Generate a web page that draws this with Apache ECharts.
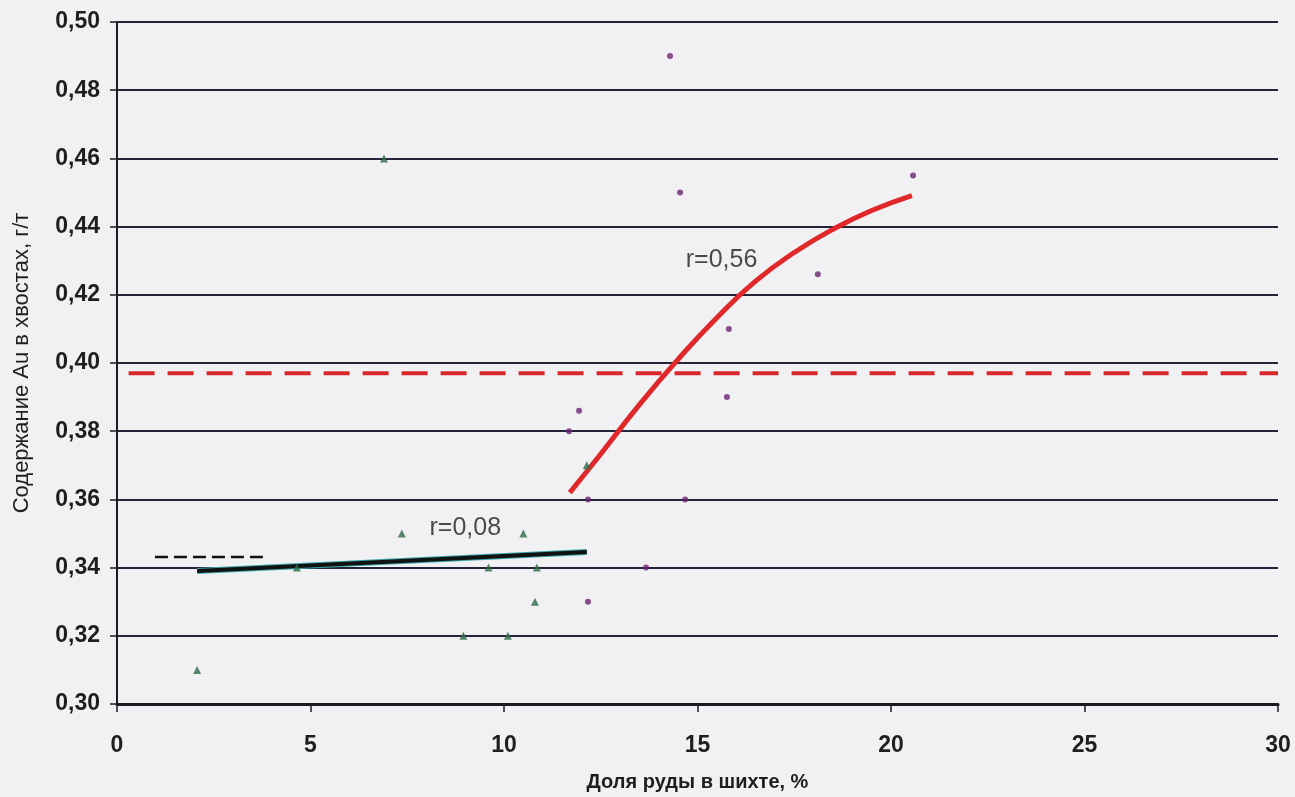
<!DOCTYPE html>
<html>
<head>
<meta charset="utf-8">
<script src="https://cdn.jsdelivr.net/npm/echarts@6/dist/echarts.min.js"></script>
<style>
    html, body { margin: 0; padding: 0; background: #f1f1f4; }
    #chart { width: 1295px; height: 797px; }
</style>
</head>
<body>
<div id="chart"></div>
<script>
// зелёные треугольники (низкая доля руды)
const lowX = [2.07, 4.65, 6.9, 7.36, 8.95, 9.6, 10.1, 10.5, 10.8, 10.85, 12.14]
const lowY = [0.31, 0.34, 0.46, 0.35, 0.32, 0.34, 0.32, 0.35, 0.33, 0.34, 0.37]

// фиолетовые точки (высокая доля руды)
const highX = [11.68, 11.94, 12.17, 12.17, 13.67, 14.29, 14.55, 14.68, 15.76, 15.81, 18.11, 20.57]
const highY = [0.38, 0.386, 0.36, 0.33, 0.34, 0.49, 0.45, 0.36, 0.39, 0.41, 0.426, 0.455]

// линия тренда r=0,56
const curveX = [11.7, 12.5, 13.5, 14.5, 15.5, 16.5, 17.5, 18.5, 19.5, 20.54]
const curveY = [0.362, 0.3733, 0.3878, 0.4011, 0.4133, 0.424, 0.4324, 0.4392, 0.4447, 0.4491]

// линия тренда r=0,08
const flatX = [2.07, 12.14]
const flatY = [0.339, 0.3446]

// средние уровни (пунктир)
const redLevelX = [0.3, 30]
const redLevelY = [0.397, 0.397]
const blackLevelX = [0.98, 3.88]
const blackLevelY = [0.3431, 0.3431]

// подписи
const notes = [
    { x: 15.62, y: 0.4302, text: 'r=0,56' },
    { x: 9.0, y: 0.3516, text: 'r=0,08' },
]

function zip(xs, ys) {
    return xs.map((x, i) => [x, ys[i]])
}

const FONT = '"Liberation Sans", Arial, sans-serif'
const comma = v => v.toFixed(2).replace('.', ',')

const myChart = echarts.init(document.getElementById('chart'))

const option = {
    backgroundColor: '#f1f1f4',
    animation: false,
    grid: {
        left: 117,
        right: 17,
        top: 22,
        bottom: 93,
    },
    xAxis: {
        type: 'value',
        min: 0,
        max: 30,
        interval: 5,
        name: 'Доля руды в шихте, %',
        nameLocation: 'middle',
        nameGap: 68,
        nameTextStyle: {
            fontFamily: FONT,
            fontSize: 20,
            fontWeight: 'bold',
            color: '#1e1e1e',
        },
        axisLine: { lineStyle: { color: '#1b1b22', width: 3 } },
        axisTick: { show: true, length: 8, lineStyle: { color: '#1b1b22', width: 1.5 } },
        axisLabel: {
            margin: 30,
            fontFamily: FONT,
            fontSize: 23,
            fontWeight: 'bold',
            color: '#1e1e1e',
        },
        splitLine: { show: false },
    },
    yAxis: {
        type: 'value',
        min: 0.3,
        max: 0.5,
        interval: 0.02,
        name: 'Содержание Au в хвостах, г/т',
        nameLocation: 'middle',
        nameGap: 84,
        nameTextStyle: {
            fontFamily: FONT,
            fontSize: 22,
            color: '#1e1e1e',
        },
        axisLine: { show: true, lineStyle: { color: '#1b1b22', width: 2 } },
        axisTick: { show: true, length: 7, lineStyle: { color: '#1b1b22', width: 1.5 } },
        axisLabel: {
            margin: 17,
            formatter: comma,
            fontFamily: FONT,
            fontSize: 23,
            fontWeight: 'bold',
            color: '#1e1e1e',
        },
        splitLine: { lineStyle: { color: '#23233a', width: 2 } },
    },
    series: [
        {
            type: 'line',
            data: zip(redLevelX, redLevelY),
            symbol: 'none',
            lineStyle: { color: '#d8282c', width: 4, type: [26, 13] },
            z: 3,
        },
        {
            type: 'line',
            data: zip(blackLevelX, blackLevelY),
            symbol: 'none',
            lineStyle: { color: '#111', width: 2.5, type: [13, 6] },
            z: 3,
        },
        {
            // бирюзовая подсветка под чёрной линией
            type: 'line',
            data: zip(flatX, flatY),
            symbol: 'none',
            lineStyle: { color: '#3aa6a8', width: 6 },
            z: 3,
        },
        {
            type: 'line',
            data: zip(flatX, flatY),
            symbol: 'none',
            lineStyle: { color: '#111', width: 4 },
            z: 4,
        },
        {
            type: 'line',
            data: zip(curveX, curveY),
            smooth: true,
            symbol: 'none',
            lineStyle: { color: '#e0282a', width: 5 },
            z: 4,
        },
        {
            type: 'scatter',
            data: zip(lowX, lowY),
            symbol: 'triangle',
            symbolSize: 8,
            itemStyle: { color: '#2d6b46' },
            z: 5,
        },
        {
            type: 'scatter',
            data: zip(highX, highY),
            symbol: 'circle',
            symbolSize: 6,
            itemStyle: { color: '#6b2470' },
            z: 5,
        },
        {
            type: 'scatter',
            data: notes.map(n => ({ value: [n.x, n.y], name: n.text })),
            symbolSize: 0,
            label: {
                show: true,
                position: 'inside',
                formatter: p => p.name,
                fontFamily: FONT,
                fontSize: 25,
                color: '#1e1e1e',
            },
            z: 6,
        },
    ],
}

myChart.setOption(option)
</script>
</body>
</html>
